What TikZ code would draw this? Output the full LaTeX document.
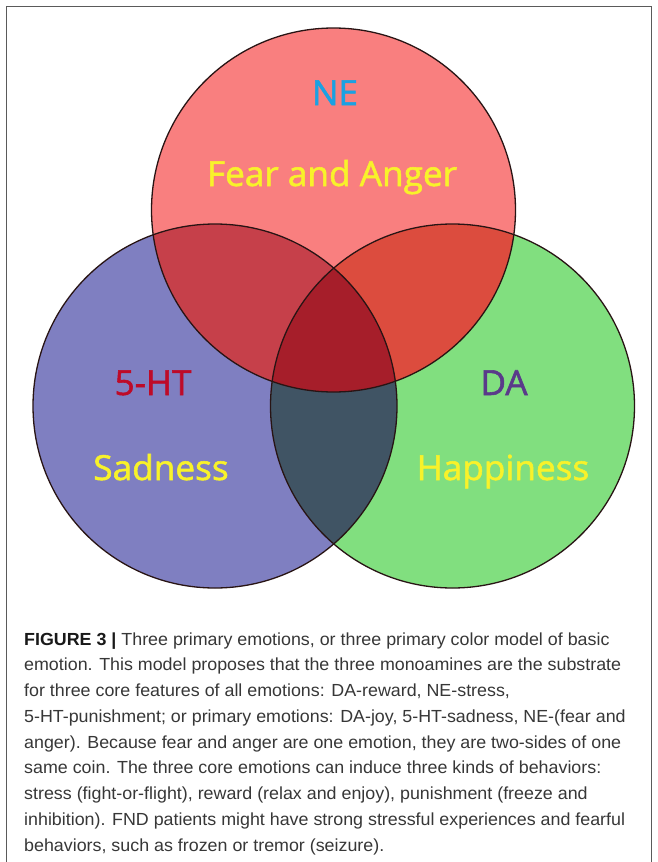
\documentclass[tikz,border=0pt]{standalone}
\usepackage{fontspec}
\setmainfont{Liberation Sans}
\newfontfamily\labelfont{Open Sans}[FakeBold=1.6,FakeStretch=1.02]
\newfontfamily\capfont{Liberation Sans}[FakeStretch=1.02]
\definecolor{redc}{RGB}{249,127,127}
\definecolor{bluec}{RGB}{127,127,193}
\definecolor{greenc}{RGB}{129,223,127}
\definecolor{rbc}{RGB}{198,64,74}
\definecolor{rgc}{RGB}{220,76,62}
\definecolor{bgc}{RGB}{64,84,100}
\definecolor{rbgc}{RGB}{166,30,42}
\definecolor{ringc}{RGB}{40,20,20}
\definecolor{nec}{RGB}{27,161,226}
\definecolor{htc}{RGB}{190,10,40}
\definecolor{dac}{RGB}{90,58,138}
\definecolor{yelc}{RGB}{248,242,42}
\definecolor{capgray}{RGB}{55,55,55}
\definecolor{framec}{RGB}{90,90,90}
\begin{document}
\begin{tikzpicture}[x=1pt,y=-1pt,
  lab/.style={font=\labelfont\fontsize{34.5}{34.5}\selectfont, anchor=base, inner sep=0pt},
  capline/.style={font=\capfont\fontsize{17.5}{17.5}\selectfont, anchor=base west, inner sep=0pt, text=capgray},
  ring/.style={draw=ringc, line width=1.3pt}]
\useasboundingbox (0,0) rectangle (657,862);
\fill[white] (0,0) rectangle (657,862);
\draw[framec, line width=1pt] (6,862) -- (6,6) -- (651,6) -- (651,862);
\coordinate (R) at (333.5,210);
\coordinate (B) at (215,406);
\coordinate (G) at (452.5,406);
\def\rad{182pt}
% base fills
\fill[redc] (R) circle[radius=\rad];
\fill[bluec] (B) circle[radius=\rad];
\fill[greenc] (G) circle[radius=\rad];
% pairwise overlaps
\begin{scope}\clip (R) circle[radius=\rad]; \fill[rbc] (B) circle[radius=\rad];\end{scope}
\begin{scope}\clip (R) circle[radius=\rad]; \fill[rgc] (G) circle[radius=\rad];\end{scope}
\begin{scope}\clip (B) circle[radius=\rad]; \fill[bgc] (G) circle[radius=\rad];\end{scope}
\begin{scope}\clip (R) circle[radius=\rad]; \clip (B) circle[radius=\rad]; \fill[rbgc] (G) circle[radius=\rad];\end{scope}
% outlines
\draw[ring] (R) circle[radius=\rad];
\draw[ring] (B) circle[radius=\rad];
\draw[ring] (G) circle[radius=\rad];
% labels
\node[lab, text=nec] (ne) at (335,105) {NE};
\node[lab, text=yelc] (fear) at (332,186) {Fear and Anger};
\node[lab, text=htc] (ht) at (153,395) {5-HT};
\node[lab, text=dac] (da) at (504,395) {DA};
\node[lab, text=yelc] (sad) at (161,480) {Sadness};
\node[lab, text=yelc] (hap) at (503,480) {Happiness};
% caption
\node[capline] (c1) at (24,645) {{\color{black!90}\bfseries FIGURE 3 |} Three primary emotions, or three primary color model of basic};
\node[capline] (c2) at (24,670.75) {emotion. This model proposes that the three monoamines are the substrate};
\node[capline] (c3) at (24,696.5) {for three core features of all emotions: DA-reward, NE-stress,};
\node[capline] (c4) at (24,722.25) {5-HT-punishment; or primary emotions: DA-joy, 5-HT-sadness, NE-(fear and};
\node[capline] (c5) at (24,748) {anger). Because fear and anger are one emotion, they are two-sides of one};
\node[capline] (c6) at (24,773.75) {same coin. The three core emotions can induce three kinds of behaviors:};
\node[capline] (c7) at (24,799.5) {stress (fight-or-flight), reward (relax and enjoy), punishment (freeze and};
\node[capline] (c8) at (24,825.25) {inhibition). FND patients might have strong stressful experiences and fearful};
\node[capline] (c9) at (24,851) {behaviors, such as frozen or tremor (seizure).};
\end{tikzpicture}
\end{document}
